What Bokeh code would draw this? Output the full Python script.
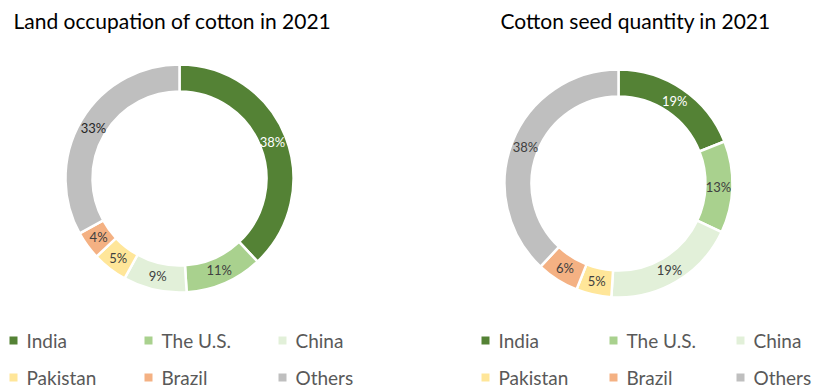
import numpy as np
from bokeh.plotting import figure
from bokeh.models import Range1d, ColumnDataSource
from bokeh.core.properties import value
from bokeh.embed import file_html
from bokeh.resources import INLINE

# ---- data ----
countries = ["India", "The U.S.", "China", "Pakistan", "Brazil", "Others"]
land_share = [38, 11, 9, 5, 4, 33]
seed_share = [19, 13, 19, 5, 6, 38]
colors = ["#548235", "#A9D18E", "#E2F0D9", "#FFE699", "#F4B183", "#BFBFBF"]
titles = ["Land occupation of cotton in 2021", "Cotton seed quantity in 2021"]

FONT = value("Lato")
W, H = 813, 388

p = figure(width=W, height=H, output_backend="svg", toolbar_location=None,
           x_range=Range1d(0, W), y_range=Range1d(0, H),
           min_border=0, outline_line_color=None)
p.axis.visible = False
p.grid.visible = False

def Y(page_y):
    return H - page_y

def donut(cx, cy, shares, label_colors):
    vals = np.array(shares, dtype=float)
    frac = vals / vals.sum()
    cum = np.concatenate([[0], np.cumsum(frac)])
    start = np.pi / 2 - 2 * np.pi * cum[:-1]
    end = np.pi / 2 - 2 * np.pi * cum[1:]
    src = ColumnDataSource(dict(x=[cx] * len(vals), y=[Y(cy)] * len(vals),
                                s=start, e=end, c=colors))
    p.annular_wedge(x="x", y="y", inner_radius=87, outer_radius=114,
                    start_angle="s", end_angle="e", direction="clock",
                    fill_color="c", line_color="white", line_width=2.5, source=src)
    mid = (start + end) / 2
    r = 100
    lx = cx + r * np.cos(mid)
    ly = Y(cy) + r * np.sin(mid)
    labels = [f"{int(v)}%" for v in vals]
    p.text(x=lx, y=ly, text=labels, text_color=label_colors,
           text_align="center", text_baseline="middle",
           text_font=FONT, text_font_size="13px")

dark = "#404040"
donut(179, 178, land_share, ["white", dark, dark, dark, dark, "#262626"])
donut(618, 183, seed_share, ["white", dark, dark, dark, dark, dark])

# titles
p.text(x=[13, 500], y=[Y(20), Y(20)], text=titles, text_color="#000000",
       text_align="left", text_baseline="middle", text_font=FONT,
       text_font_size="21px")

# legends
def legend(x_cols, rows_y):
    xs, ys, tx = [], [], []
    for i, name in enumerate(countries):
        col, row = i % 3, i // 3
        xs.append(x_cols[col] + 4)
        ys.append(Y(rows_y[row]))
        tx.append(x_cols[col] + 17)
    p.scatter(x=xs, y=ys, marker="square", size=8, fill_color=colors, line_color=None)
    p.text(x=tx, y=ys, text=countries, text_color="#595959", text_align="left",
           text_baseline="middle", text_font=FONT, text_font_size="19px")

legend([9, 144, 278], [340, 377])
legend([481, 609, 736], [340, 377])

open("out.html", "w").write(file_html(p, INLINE))
